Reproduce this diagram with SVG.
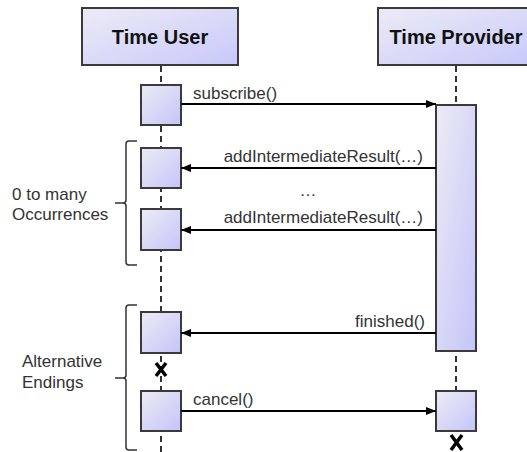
<svg xmlns="http://www.w3.org/2000/svg" width="527" height="452" viewBox="0 0 527 452">
<defs>
<linearGradient id="g" x1="0" y1="0" x2="1" y2="1">
<stop offset="0" stop-color="#ececf4"/>
<stop offset="1" stop-color="#c4c4fa"/>
</linearGradient>
<linearGradient id="gh" x1="0" y1="0" x2="1" y2="1">
<stop offset="0" stop-color="#ececf6"/>
<stop offset="1" stop-color="#c8c8fb"/>
</linearGradient>
<marker id="ah" viewBox="0 0 10 8" refX="10" refY="4" markerWidth="10" markerHeight="8" markerUnits="userSpaceOnUse" orient="auto">
<path d="M0,0 L10,4 L0,8 Z" fill="#000"/>
</marker>
<style>
.hd{fill:url(#gh);stroke:#3a3a3a;stroke-width:2}
.act{fill:url(#g);stroke:#3a3a3a;stroke-width:2}
.ll{stroke:#333;stroke-width:2;stroke-dasharray:6 4;fill:none}
.msg{stroke:#000;stroke-width:2;fill:none;marker-end:url(#ah)}
.t{font-family:"Liberation Sans",Arial,sans-serif;font-size:17px;fill:#333}
.h{font-family:"Liberation Sans",Arial,sans-serif;font-size:20px;font-weight:bold;fill:#111;text-anchor:middle}
.br{stroke:#333;stroke-width:1.5;fill:none}
.x{stroke:#000;stroke-width:3.5;fill:none}
</style>
</defs>
<g id="lifelines">
<line class="ll" x1="161" y1="66" x2="161" y2="452"/>
<line class="ll" x1="456" y1="66" x2="456" y2="391"/>
</g>
<g id="time-user">
<rect class="hd" x="82" y="8" width="156" height="57"/>
<text class="h" x="160" y="44">Time User</text>
</g>
<g id="time-provider">
<rect class="hd" x="378" y="8" width="156" height="57"/>
<text class="h" x="456" y="44">Time Provider</text>
</g>
<g id="user-activations">
<rect class="act" x="141" y="85" width="40" height="40"/>
<rect class="act" x="141" y="148" width="40" height="40"/>
<rect class="act" x="141" y="209" width="40" height="41"/>
<rect class="act" x="141" y="312" width="40" height="41"/>
<rect class="act" x="141" y="391" width="40" height="40"/>
</g>
<g id="provider-activations">
<rect class="act" x="436" y="105" width="40" height="246"/>
<rect class="act" x="436" y="391" width="40" height="40"/>
</g>
<g id="connectors">
<line class="msg" x1="181" y1="104" x2="436" y2="104"/>
<line class="msg" x1="436" y1="168" x2="181" y2="168"/>
<line class="msg" x1="436" y1="230" x2="181" y2="230"/>
<line class="msg" x1="436" y1="333" x2="181" y2="333"/>
<line class="msg" x1="181" y1="411" x2="436" y2="411"/>
</g>
<g id="labels">
<text class="t" x="193" y="99">subscribe()</text>
<text class="t" x="423" y="162" text-anchor="end">addIntermediateResult(…)</text>
<text class="t" x="308" y="196" text-anchor="middle">…</text>
<text class="t" x="423" y="223" text-anchor="end">addIntermediateResult(…)</text>
<text class="t" x="425" y="327" text-anchor="end">finished()</text>
<text class="t" x="193" y="405">cancel()</text>
</g>
<g id="destroy-marks">
<path class="x" d="M156,363 L166,376 M166,363 L156,376"/>
<path class="x" d="M451,435 L462,450 M462,435 L451,450"/>
</g>
<g id="brackets">
<path class="br" d="M137,141 L129,141 Q126,141 126,144 L126,200 Q126,203 123,203 L115,203 M123,203 Q126,203 126,206 L126,262 Q126,265 129,265 L137,265"/>
<text class="t" x="12" y="200">0 to many</text>
<text class="t" x="12" y="220">Occurrences</text>
<path class="br" d="M137,305 L129,305 Q126,305 126,308 L126,375 Q126,378 123,378 L115,378 M123,378 Q126,378 126,381 L126,447 Q126,450 129,450 L137,450"/>
<text class="t" x="22" y="367">Alternative</text>
<text class="t" x="22" y="388">Endings</text>
</g>
</svg>
